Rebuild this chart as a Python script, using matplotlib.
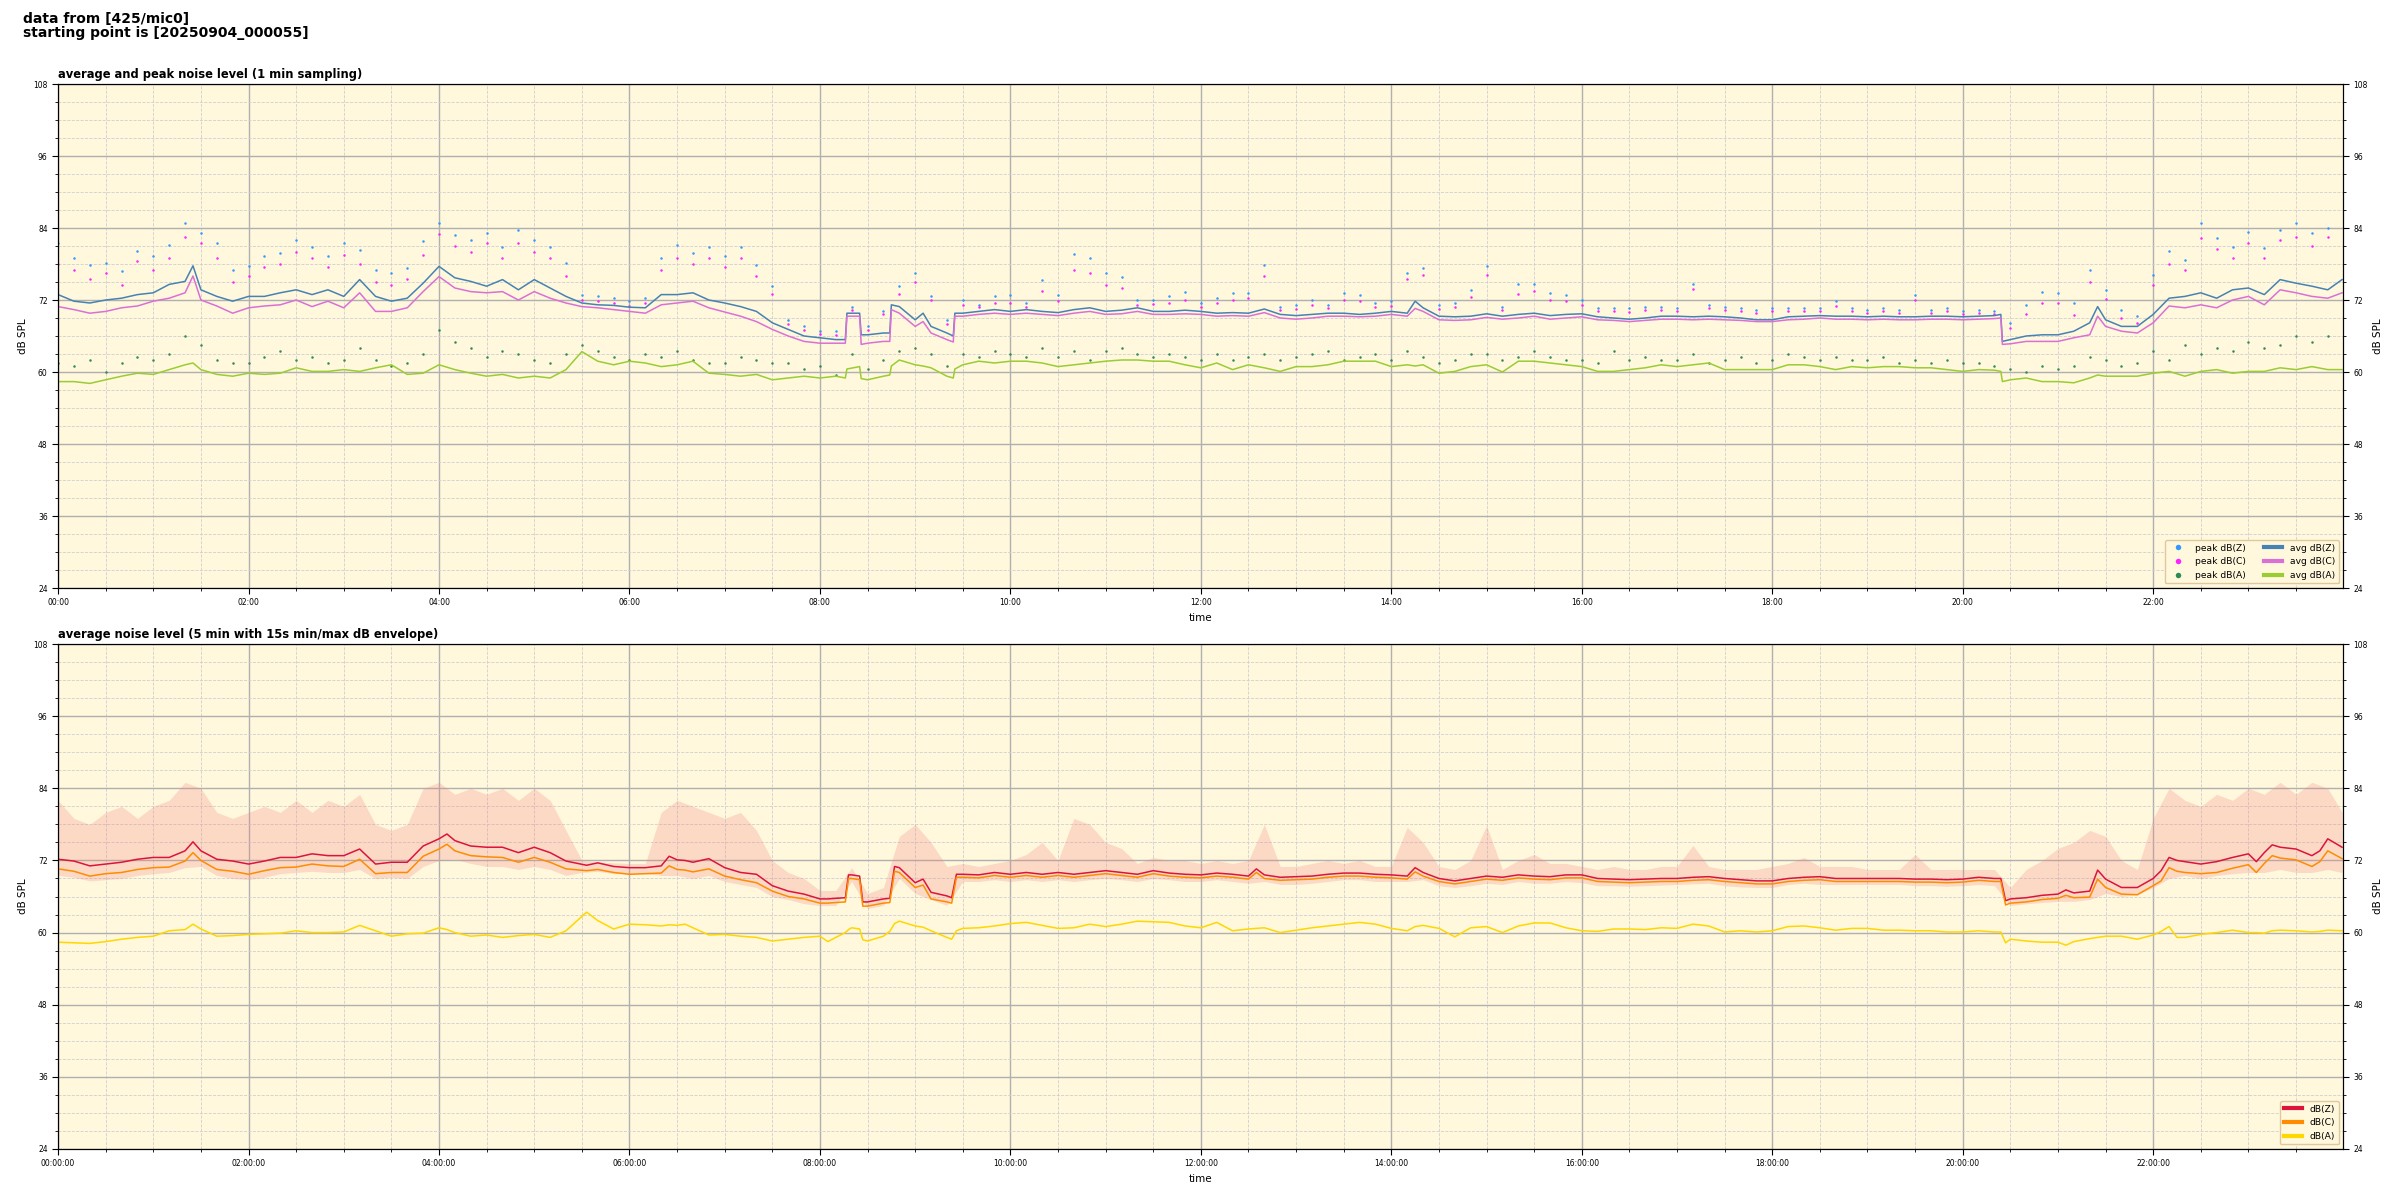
import pandas as pd
import matplotlib
matplotlib.use('Agg')
import matplotlib.pyplot as plt
import matplotlib.dates as mdates
from matplotlib.ticker import MultipleLocator

DAY = '2025-09-04 '

# ---- top panel: 1 min averages (knots ~10 min) ----
avg_time = """
00:00 00:10 00:20 00:30 00:40 00:50
01:00 01:10 01:20 01:25 01:30 01:40 01:50
02:00 02:10 02:20 02:30 02:40 02:50
03:00 03:10 03:20 03:30 03:40 03:50
04:00 04:10 04:20 04:30 04:40 04:50
05:00 05:10 05:20 05:30 05:40 05:50
06:00 06:10 06:20 06:30 06:40 06:50
07:00 07:10 07:20 07:30 07:40 07:50
08:00 08:10 08:16 08:17 08:25 08:26 08:30 08:40 08:44 08:45 08:50
09:00 09:05 09:10 09:20 09:24 09:25 09:30 09:40 09:50
10:00 10:10 10:20 10:30 10:40 10:50
11:00 11:10 11:20 11:30 11:40 11:50
12:00 12:10 12:20 12:30 12:40 12:50
13:00 13:10 13:20 13:30 13:40 13:50
14:00 14:10 14:15 14:20 14:30 14:40 14:50
15:00 15:10 15:20 15:30 15:40 15:50
16:00 16:10 16:20 16:30 16:40 16:50
17:00 17:10 17:20 17:30 17:40 17:50
18:00 18:10 18:20 18:30 18:40 18:50
19:00 19:10 19:20 19:30 19:40 19:50
20:00 20:10 20:20 20:24 20:25 20:30 20:40 20:50
21:00 21:10 21:20 21:25 21:30 21:40 21:50
22:00 22:10 22:20 22:30 22:40 22:50
23:00 23:10 23:20 23:30 23:40 23:50 23:59
""".split()

avg_z = [72.9, 71.8, 71.5, 72.0, 72.3, 72.9,
         73.2, 74.6, 75.1, 77.7, 73.7, 72.6, 71.8,
         72.6, 72.6, 73.2, 73.7, 72.9, 73.7,
         72.6, 75.4, 72.6, 71.8, 72.3, 74.8,
         77.6, 75.7, 75.1, 74.3, 75.4, 73.7,
         75.4, 74.0, 72.6, 71.5, 71.2, 71.1,
         70.8, 70.7, 72.9, 72.9, 73.2, 72.0,
         71.5, 70.9, 70.1, 68.2, 67.1, 66.0,
         65.7, 65.4, 65.4, 69.8, 69.8, 66.2, 66.2, 66.5, 66.5, 71.2, 70.9,
         68.7, 69.8, 67.6, 66.5, 66.0, 69.8, 69.8, 70.1, 70.4,
         70.1, 70.4, 70.1, 69.9, 70.4, 70.7,
         70.1, 70.3, 70.7, 70.1, 70.1, 70.3,
         70.1, 69.8, 69.9, 69.8, 70.5, 69.6,
         69.4, 69.6, 69.8, 69.8, 69.6, 69.8,
         70.1, 69.8, 71.8, 70.7, 69.3, 69.2, 69.3,
         69.7, 69.3, 69.6, 69.8, 69.4, 69.6,
         69.7, 69.2, 69.0, 68.8, 69.0, 69.3,
         69.3, 69.2, 69.3, 69.2, 69.0, 68.7,
         68.7, 69.2, 69.3, 69.4, 69.3, 69.3,
         69.2, 69.3, 69.2, 69.2, 69.3, 69.3,
         69.2, 69.3, 69.4, 69.6, 65.1, 65.4, 66.0, 66.2,
         66.2, 66.8, 68.2, 70.9, 68.7, 67.6, 67.6,
         69.6, 72.3, 72.6, 73.2, 72.3, 73.7,
         74.0, 72.9, 75.4, 74.8, 74.3, 73.7, 75.4]

avg_c = [70.9, 70.4, 69.8, 70.1, 70.7, 71.0,
         71.8, 72.3, 73.2, 76.0, 72.0, 71.0, 69.8,
         70.7, 71.0, 71.2, 72.0, 70.9, 71.8,
         70.7, 73.2, 70.1, 70.1, 70.7, 73.4,
         75.9, 74.0, 73.4, 73.2, 73.4, 72.0,
         73.4, 72.3, 71.5, 70.9, 70.7, 70.4,
         70.1, 69.8, 71.2, 71.5, 71.8, 70.7,
         70.0, 69.3, 68.4, 67.1, 66.0, 65.1,
         64.8, 64.8, 64.8, 69.3, 69.3, 64.6, 64.8, 65.1, 65.1, 70.4, 69.8,
         67.6, 68.4, 66.5, 65.4, 65.0, 69.3, 69.3, 69.6, 69.8,
         69.6, 69.8, 69.6, 69.4, 69.8, 70.1,
         69.6, 69.7, 70.1, 69.6, 69.6, 69.7,
         69.6, 69.3, 69.4, 69.3, 69.9, 69.0,
         68.8, 69.0, 69.3, 69.3, 69.2, 69.3,
         69.6, 69.3, 70.6, 70.1, 68.7, 68.6, 68.7,
         69.1, 68.8, 69.0, 69.3, 68.8, 69.0,
         69.2, 68.7, 68.6, 68.4, 68.6, 68.8,
         68.8, 68.7, 68.8, 68.7, 68.6, 68.4,
         68.4, 68.7, 68.8, 69.0, 68.8, 68.8,
         68.7, 68.8, 68.7, 68.7, 68.8, 68.8,
         68.7, 68.8, 68.9, 69.0, 64.6, 64.7, 65.1, 65.1,
         65.1, 65.7, 66.2, 69.3, 67.6, 66.8, 66.5,
         68.2, 71.0, 70.7, 71.2, 70.7, 72.0,
         72.6, 71.2, 73.7, 73.2, 72.6, 72.3, 73.2]

avg_a = [58.4, 58.4, 58.1, 58.7, 59.3, 59.8,
         59.6, 60.4, 61.2, 61.5, 60.4, 59.6, 59.3,
         59.8, 59.6, 59.8, 60.7, 60.1, 60.1,
         60.4, 60.1, 60.7, 61.2, 59.6, 59.8,
         61.2, 60.4, 59.8, 59.3, 59.6, 59.0,
         59.3, 59.0, 60.4, 63.4, 61.8, 61.2,
         61.8, 61.5, 60.9, 61.2, 61.8, 59.8,
         59.6, 59.3, 59.6, 58.7, 59.0, 59.3,
         59.0, 59.3, 59.0, 60.5, 60.9, 58.9, 58.7, 59.3, 59.5, 61.0, 62.0,
         61.2, 61.0, 60.7, 59.3, 59.0, 60.5, 61.2, 61.8, 61.5,
         61.8, 61.8, 61.5, 60.9, 61.2, 61.5,
         61.8, 62.0, 62.0, 61.8, 61.8, 61.2,
         60.7, 61.5, 60.4, 61.2, 60.7, 60.1,
         60.9, 60.9, 61.2, 61.8, 61.8, 61.8,
         60.9, 61.2, 61.0, 61.2, 59.8, 60.1, 60.9,
         61.2, 60.0, 61.8, 61.8, 61.5, 61.2,
         60.9, 60.1, 60.1, 60.4, 60.7, 61.2,
         60.9, 61.2, 61.5, 60.4, 60.4, 60.4,
         60.4, 61.2, 61.2, 60.9, 60.4, 60.9,
         60.7, 60.9, 60.9, 60.7, 60.7, 60.4,
         60.1, 60.4, 60.3, 60.1, 58.4, 58.7, 59.0, 58.4,
         58.4, 58.2, 59.0, 59.5, 59.3, 59.3, 59.3,
         59.8, 60.1, 59.3, 60.1, 60.4, 59.8,
         60.1, 60.1, 60.7, 60.4, 60.9, 60.4, 60.4]

# peak values, one reading per 10 min (00:00 .. 23:50)
peak_z = [81.5, 79.0, 77.9, 78.2, 76.8, 80.1,
          79.3, 81.2, 84.8, 83.2, 81.5, 77.0,
          77.6, 79.3, 79.8, 82.0, 80.9, 79.3,
          81.5, 80.4, 77.0, 76.5, 77.3, 81.8,
          84.8, 82.9, 82.0, 83.2, 80.9, 83.7,
          82.0, 80.9, 78.2, 72.9, 72.6, 72.3,
          71.8, 72.3, 79.0, 81.2, 79.8, 80.9,
          79.3, 80.9, 77.9, 74.3, 68.7, 67.6,
          66.8, 66.8, 70.9, 67.6, 70.1, 74.3,
          76.5, 72.6, 68.7, 72.0, 71.2, 72.6,
          72.9, 71.5, 75.4, 72.9, 79.6, 79.0,
          76.5, 75.9, 72.0, 72.0, 72.6, 73.4,
          71.5, 72.3, 73.2, 73.2, 77.9, 70.9,
          71.2, 72.0, 71.2, 73.2, 72.9, 71.5,
          71.8, 76.5, 77.3, 71.2, 71.5, 73.7,
          77.6, 70.9, 74.6, 74.6, 73.2, 72.9,
          72.0, 70.7, 70.7, 70.7, 70.9, 70.9,
          70.7, 74.6, 71.2, 70.9, 70.7, 70.4,
          70.7, 70.7, 70.7, 70.7, 71.8, 70.7,
          70.4, 70.7, 70.4, 72.9, 70.4, 70.7,
          70.1, 70.4, 70.1, 68.2, 71.2, 73.4,
          73.2, 71.5, 77.0, 73.7, 70.4, 69.3,
          76.2, 80.1, 78.7, 84.8, 82.3, 80.9,
          83.4, 80.7, 83.7, 84.8, 83.2, 84.0]

peak_c = [78.0, 77.0, 75.5, 76.5, 74.5, 78.5,
          77.0, 79.0, 82.5, 81.5, 79.0, 75.0,
          76.0, 77.5, 78.0, 80.0, 79.0, 77.5,
          79.5, 78.0, 75.0, 74.5, 75.5, 79.5,
          83.0, 81.0, 80.0, 81.5, 79.0, 81.5,
          80.0, 79.0, 76.0, 72.0, 71.8, 71.5,
          71.0, 71.5, 77.0, 79.0, 78.0, 79.0,
          77.5, 79.0, 76.0, 73.0, 68.0, 67.0,
          66.3, 66.2, 70.4, 67.0, 69.6, 73.0,
          75.0, 72.0, 68.0, 71.2, 70.8, 71.5,
          71.5, 70.8, 73.5, 71.8, 77.0, 76.5,
          74.5, 74.0, 71.2, 71.3, 71.5, 72.0,
          70.8, 71.5, 72.0, 72.3, 76.0, 70.3,
          70.5, 71.2, 70.6, 72.0, 71.8, 70.8,
          71.0, 75.5, 76.2, 70.5, 70.8, 72.5,
          76.2, 70.3, 73.0, 73.5, 72.0, 71.8,
          71.2, 70.1, 70.2, 70.0, 70.3, 70.3,
          70.1, 73.8, 70.6, 70.3, 70.1, 69.9,
          70.1, 70.1, 70.2, 70.1, 71.0, 70.1,
          69.9, 70.1, 69.9, 72.0, 69.9, 70.2,
          69.6, 69.9, 69.6, 67.4, 69.6, 71.5,
          71.5, 69.5, 75.0, 72.2, 69.0, 68.1,
          74.5, 78.0, 77.0, 82.3, 80.5, 79.0,
          81.5, 79.0, 82.0, 82.5, 81.0, 82.5]

peak_a = [61.5, 61.0, 62.0, 60.0, 61.5, 62.5,
          62.0, 63.0, 66.0, 64.5, 62.0, 61.5,
          61.5, 62.5, 63.5, 62.0, 62.5, 61.5,
          62.0, 64.0, 62.0, 61.0, 61.5, 63.0,
          67.0, 65.0, 64.0, 62.5, 63.5, 63.0,
          62.0, 61.5, 63.0, 64.5, 63.5, 62.5,
          62.0, 63.0, 62.5, 63.5, 62.0, 61.5,
          61.5, 62.5, 62.0, 61.5, 61.5, 60.5,
          61.0, 59.5, 63.0, 60.5, 62.0, 63.5,
          64.0, 63.0, 61.0, 63.0, 62.5, 63.5,
          63.0, 62.5, 64.0, 62.5, 63.5, 62.0,
          63.5, 64.0, 63.0, 62.5, 63.0, 62.5,
          62.0, 63.0, 62.0, 62.5, 63.0, 62.0,
          62.5, 63.0, 63.5, 62.0, 62.5, 63.0,
          62.0, 63.5, 62.5, 61.5, 62.0, 63.0,
          63.0, 62.0, 62.5, 63.5, 62.5, 62.0,
          62.0, 61.5, 63.5, 62.0, 62.5, 62.0,
          62.0, 63.0, 61.5, 62.0, 62.5, 61.5,
          62.0, 63.0, 62.5, 62.0, 62.5, 62.0,
          62.0, 62.5, 61.5, 62.0, 61.5, 62.0,
          61.5, 61.5, 61.0, 60.5, 60.0, 61.0,
          60.5, 61.0, 62.5, 62.0, 61.0, 61.5,
          63.5, 62.0, 64.5, 63.0, 64.0, 63.5,
          65.0, 64.0, 64.5, 66.0, 65.0, 66.0]

# ---- bottom panel: 5 min averages ----
min5_time = """
00:00 00:10 00:20 00:30 00:40 00:50
01:00 01:10 01:20 01:25 01:30 01:40 01:50
02:00 02:10 02:20 02:30 02:40 02:50
03:00 03:10 03:20 03:30 03:40 03:50
04:00 04:05 04:10 04:20 04:30 04:40 04:50
05:00 05:10 05:20 05:33 05:40 05:50
06:00 06:10 06:20 06:25 06:30 06:35 06:40 06:50
07:00 07:10 07:20 07:30 07:40 07:50
08:00 08:05 08:10 08:16 08:18 08:20 08:25 08:27 08:30 08:40 08:44 08:47 08:50
09:00 09:05 09:10 09:20 09:23 09:26 09:30 09:40 09:50
10:00 10:10 10:20 10:30 10:40 10:50
11:00 11:10 11:20 11:30 11:40 11:50
12:00 12:10 12:20 12:30 12:35 12:40 12:50
13:00 13:10 13:20 13:30 13:40 13:50
14:00 14:10 14:15 14:20 14:30 14:40 14:50
15:00 15:10 15:20 15:30 15:40 15:50
16:00 16:10 16:20 16:30 16:40 16:50
17:00 17:10 17:20 17:30 17:40 17:50
18:00 18:10 18:20 18:30 18:40 18:50
19:00 19:10 19:20 19:30 19:40 19:50
20:00 20:10 20:20 20:24 20:27 20:30 20:40 20:50
21:00 21:05 21:10 21:20 21:25 21:30 21:40 21:50
22:00 22:05 22:10 22:15 22:20 22:30 22:40 22:50
23:00 23:05 23:10 23:15 23:20 23:30 23:40 23:45 23:50 23:59
""".split()

min5_z = [72.2, 71.9, 71.1, 71.4, 71.7, 72.2,
          72.5, 72.5, 73.6, 75.1, 73.6, 72.2, 71.9,
          71.4, 71.9, 72.5, 72.5, 73.1, 72.8,
          72.8, 73.9, 71.4, 71.7, 71.7, 74.4,
          75.6, 76.4, 75.3, 74.4, 74.2, 74.2, 73.3,
          74.2, 73.3, 71.9, 71.2, 71.6, 71.0,
          70.8, 70.8, 71.1, 72.7, 72.1, 72.0, 71.7, 72.3,
          70.8, 70.0, 69.7, 67.8, 66.9, 66.4,
          65.6, 65.6, 65.7, 65.8, 69.6, 69.6, 69.4, 65.1, 65.1, 65.6, 65.7, 71.0, 70.8,
          68.3, 68.9, 66.7, 66.1, 65.8, 69.7, 69.7, 69.6, 70.0,
          69.7, 70.0, 69.7, 70.0, 69.7, 70.0,
          70.3, 70.0, 69.7, 70.3, 69.9, 69.7,
          69.6, 69.9, 69.7, 69.4, 70.6, 69.6, 69.2,
          69.3, 69.4, 69.7, 69.9, 69.9, 69.7,
          69.6, 69.4, 70.8, 70.0, 69.0, 68.6, 69.0,
          69.4, 69.2, 69.6, 69.4, 69.3, 69.6,
          69.6, 69.0, 68.9, 68.8, 68.9, 69.0,
          69.0, 69.2, 69.3, 69.0, 68.8, 68.6,
          68.6, 69.0, 69.2, 69.3, 69.0, 69.0,
          69.0, 69.0, 69.0, 68.9, 68.9, 68.8,
          68.9, 69.2, 69.0, 69.0, 65.3, 65.6, 65.8, 66.2,
          66.4, 67.1, 66.6, 66.9, 70.4, 68.9, 67.5, 67.5,
          69.0, 70.3, 72.5, 72.0, 71.8, 71.4, 71.8, 72.5,
          73.1, 71.8, 73.3, 74.6, 74.2, 73.9, 72.8, 73.6, 75.6, 74.2]

min5_c = [70.6, 70.2, 69.4, 69.8, 70.0, 70.5,
          70.8, 70.9, 71.9, 73.3, 72.0, 70.5, 70.2,
          69.7, 70.3, 70.8, 70.9, 71.4, 71.1,
          71.0, 72.2, 69.8, 70.0, 70.0, 72.7,
          73.9, 74.7, 73.6, 72.8, 72.6, 72.5, 71.7,
          72.5, 71.7, 70.6, 70.3, 70.5, 70.0,
          69.7, 69.8, 69.9, 71.1, 70.5, 70.4, 70.1, 70.6,
          69.4, 68.8, 68.3, 66.9, 66.0, 65.6,
          64.9, 64.9, 65.0, 65.1, 69.0, 69.0, 68.8, 64.4, 64.4, 64.9, 65.0, 70.2, 70.0,
          67.5, 67.9, 65.6, 65.1, 64.9, 69.2, 69.2, 69.1, 69.5,
          69.2, 69.5, 69.2, 69.5, 69.2, 69.5,
          69.8, 69.5, 69.2, 69.8, 69.4, 69.2,
          69.1, 69.4, 69.2, 68.9, 70.0, 69.0, 68.7,
          68.8, 68.9, 69.2, 69.4, 69.4, 69.2,
          69.1, 68.9, 70.1, 69.4, 68.5, 68.1, 68.5,
          68.9, 68.7, 69.1, 68.9, 68.8, 69.1,
          69.1, 68.5, 68.4, 68.3, 68.4, 68.5,
          68.5, 68.7, 68.8, 68.5, 68.3, 68.1,
          68.1, 68.5, 68.7, 68.8, 68.5, 68.5,
          68.5, 68.5, 68.5, 68.4, 68.4, 68.3,
          68.4, 68.7, 68.5, 68.5, 64.6, 64.9, 65.1, 65.5,
          65.7, 66.2, 65.8, 65.9, 68.9, 67.5, 66.4, 66.3,
          67.8, 68.6, 70.8, 70.2, 70.0, 69.8, 70.0, 70.7,
          71.3, 70.0, 71.5, 72.8, 72.4, 72.1, 71.0, 71.8, 73.6, 72.3]

min5_a = [58.4, 58.3, 58.2, 58.5, 58.9, 59.2,
          59.4, 60.3, 60.5, 61.4, 60.6, 59.4, 59.5,
          59.7, 59.8, 59.9, 60.3, 60.0, 60.0,
          60.1, 61.2, 60.3, 59.4, 59.8, 59.9,
          60.8, 60.5, 60.0, 59.4, 59.6, 59.2, 59.5,
          59.7, 59.2, 60.3, 63.4, 62.0, 60.6,
          61.4, 61.3, 61.1, 61.3, 61.2, 61.4, 60.8, 59.6,
          59.7, 59.4, 59.2, 58.6, 58.9, 59.2,
          59.4, 58.5, 59.2, 60.0, 60.5, 60.8, 60.6, 58.8, 58.6, 59.4, 60.2, 61.5, 61.9,
          61.1, 60.9, 60.3, 59.2, 58.9, 60.3, 60.7, 60.8, 61.1,
          61.5, 61.7, 61.2, 60.7, 60.8, 61.4,
          61.0, 61.4, 61.9, 61.8, 61.7, 61.1,
          60.8, 61.7, 60.3, 60.6, 60.7, 60.8, 60.0,
          60.4, 60.8, 61.1, 61.4, 61.7, 61.4,
          60.7, 60.3, 61.0, 61.2, 60.7, 59.3, 60.8,
          61.0, 60.0, 61.1, 61.6, 61.6, 60.8,
          60.3, 60.2, 60.6, 60.6, 60.5, 60.8,
          60.7, 61.4, 61.1, 60.1, 60.3, 60.1,
          60.3, 61.0, 61.1, 60.8, 60.4, 60.7,
          60.7, 60.4, 60.4, 60.3, 60.3, 60.1,
          60.1, 60.3, 60.1, 60.1, 58.3, 58.9, 58.6, 58.4,
          58.4, 57.9, 58.5, 59.0, 59.2, 59.4, 59.4, 58.9,
          59.6, 60.2, 61.0, 59.2, 59.2, 59.7, 60.0, 60.4,
          60.0, 60.0, 59.9, 60.3, 60.4, 60.3, 60.1, 60.2, 60.4, 60.3]

# 15 s min/max envelope, read every 10 min (00:00 .. 23:50, 23:59)
env_hi = [82, 79, 78, 80, 81, 79,
          81, 82, 85, 84, 80, 79,
          80, 81, 80, 82, 80, 82,
          81, 83, 78, 77, 78, 84,
          85, 83, 84, 83, 84, 82,
          84, 82, 77, 72, 71.8, 71.6,
          71.5, 71.5, 80, 82, 81, 80,
          79, 80, 77, 72, 70, 69,
          67, 67, 70.8, 66.5, 67.5, 76,
          78, 75, 71, 71.5, 71, 71.5,
          72, 73, 75, 72, 79, 78,
          75, 74, 71.5, 72.5, 72, 72,
          71.5, 72, 71.5, 72, 78, 71,
          71, 71.5, 72, 71.5, 72, 71,
          71, 77.5, 75, 71, 70.5, 72,
          77.8, 70.5, 72, 73, 71.5, 71.5,
          71, 70.5, 71, 70.5, 70.5, 71,
          71, 74.5, 71, 70.5, 70.5, 70.5,
          71, 71.5, 72.5, 71, 71, 71,
          70.5, 70.5, 70.5, 73, 70.5, 70.5,
          70.5, 70.5, 70.5, 67.5, 70.5, 72,
          74, 75, 77, 76, 72, 70.5,
          79, 84, 82, 81, 83, 82,
          84, 83, 85, 83, 85, 84, 80]

env_lo = [69.5, 69.2, 68.6, 68.8, 69.0, 69.5,
          69.8, 70.0, 70.8, 71.0, 69.5, 69.0,
          68.8, 69.2, 69.8, 70.0, 70.2, 70.0,
          70.0, 70.5, 69.0, 69.2, 69.0, 71.0,
          72.0, 72.2, 71.5, 71.0, 71.0, 70.5,
          71.0, 70.5, 69.5, 70.0, 70.2, 69.8,
          69.8, 69.8, 69.5, 69.5, 69.0, 69.5,
          68.5, 68.0, 67.5, 66.0, 65.5, 64.8,
          64.5, 64.5, 68.5, 64.0, 64.5, 69.0,
          66.5, 65.5, 64.5, 68.5, 68.5, 68.8,
          68.5, 68.8, 68.5, 68.8, 68.5, 68.8,
          69.0, 68.8, 68.5, 69.0, 68.8, 68.5,
          68.5, 68.8, 68.5, 68.2, 68.5, 68.0,
          68.0, 68.2, 68.5, 68.8, 68.8, 68.5,
          68.5, 68.5, 68.8, 67.8, 67.5, 67.8,
          68.2, 68.0, 68.5, 68.2, 68.2, 68.5,
          68.3, 67.8, 67.8, 67.7, 67.8, 67.9,
          68.0, 68.1, 68.2, 67.8, 67.6, 67.5,
          67.5, 68.0, 68.2, 68.0, 68.0, 68.0,
          68.0, 68.0, 68.0, 67.8, 67.8, 67.7,
          67.8, 68.0, 67.8, 64.5, 64.8, 65.0,
          65.2, 65.2, 65.5, 66.5, 66.0, 66.3,
          67.5, 69.0, 69.5, 69.0, 69.5, 69.8,
          70.0, 70.0, 70.5, 70.0, 70.0, 70.5, 70.0]


def to_dt(times):
    return pd.to_datetime([DAY + t for t in times])


t_avg = to_dt(avg_time)
t_5m = to_dt(min5_time)
t_peak = pd.date_range(DAY + '00:00', DAY + '23:50', freq='10min')
t_env = t_peak.append(pd.DatetimeIndex([pd.Timestamp(DAY + '23:59')]))

BG = '#fff8dc'


def style_axes(ax, fmt):
    ax.set_facecolor(BG)
    ax.set_axisbelow(True)
    ax.set_xlim(pd.Timestamp(DAY + '00:00'), pd.Timestamp(DAY + '23:59:40'))
    ax.set_ylim(24, 108)
    ax.yaxis.set_major_locator(MultipleLocator(12))
    ax.yaxis.set_minor_locator(MultipleLocator(3))
    ax.xaxis.set_major_locator(mdates.HourLocator(byhour=range(0, 24, 2)))
    ax.xaxis.set_minor_locator(mdates.MinuteLocator(byminute=[0, 30]))
    ax.xaxis.set_major_formatter(mdates.DateFormatter(fmt))
    ax.xaxis.get_offset_text().set_visible(False)
    ax.grid(which='major', color='#b0b0b0', lw=1.0)
    ax.grid(which='minor', color='#cfcfcf', ls='--', lw=0.6)
    ax.tick_params(which='major', labelsize=5.5, length=4)
    ax.tick_params(which='minor', length=2.5)
    ax.set_ylabel('dB SPL', fontsize=7.5)
    ax.set_xlabel('time', fontsize=7.5)
    # mirror y axis on the right
    rax = ax.twinx()
    rax.set_ylim(24, 108)
    rax.yaxis.set_major_locator(MultipleLocator(12))
    rax.yaxis.set_minor_locator(MultipleLocator(3))
    rax.tick_params(which='major', labelsize=5.5, length=4)
    rax.tick_params(which='minor', length=2.5)
    rax.set_ylabel('dB SPL', fontsize=7.5)


fig = plt.figure(figsize=(24, 12), dpi=100)
fig.text(0.0096, 0.99, 'data from [425/mic0]\nstarting point is [20250904_000055]',
         fontsize=10, fontweight='bold', va='top', ha='left', linespacing=1.0)

# top: 1 min averages and peaks
ax1 = fig.add_axes([0.0242, 0.51, 0.9521, 0.42])
style_axes(ax1, '%H:%M')
ax1.set_title('average and peak noise level (1 min sampling)', loc='left',
              fontsize=8.3, fontweight='bold', pad=4)
ax1.plot(t_peak, peak_z, ls='none', marker='o', ms=1.8, mew=0, color='#3399ff', label='peak dB(Z)')
ax1.plot(t_peak, peak_c, ls='none', marker='o', ms=1.8, mew=0, color='#ff22ff', label='peak dB(C)')
ax1.plot(t_peak, peak_a, ls='none', marker='o', ms=1.8, mew=0, color='seagreen', label='peak dB(A)')
ax1.plot(t_avg, avg_z, color='steelblue', lw=1.1, label='avg dB(Z)')
ax1.plot(t_avg, avg_c, color='orchid', lw=1.1, label='avg dB(C)')
ax1.plot(t_avg, avg_a, color='yellowgreen', lw=1.1, label='avg dB(A)')
leg1 = ax1.legend(loc='lower right', ncol=2, fontsize=6.6, markerscale=2.2,
                  facecolor=BG, edgecolor='#e0c7a0', framealpha=1)
for ln in leg1.get_lines():
    ln.set_linewidth(3)

# bottom: 5 min averages with 15 s min/max envelope
ax2 = fig.add_axes([0.0242, 0.0425, 0.9521, 0.4208])
style_axes(ax2, '%H:%M:%S')
ax2.set_title('average noise level (5 min with 15s min/max dB envelope)', loc='left',
              fontsize=8.3, fontweight='bold', pad=4)
ax2.fill_between(t_env, env_lo, env_hi, color='lightcoral', alpha=0.25, lw=0)
ax2.plot(t_5m, min5_z, color='crimson', lw=1.1, label='dB(Z)')
ax2.plot(t_5m, min5_c, color='darkorange', lw=1.1, label='dB(C)')
ax2.plot(t_5m, min5_a, color='gold', lw=1.1, label='dB(A)')
leg2 = ax2.legend(loc='lower right', fontsize=6.6, facecolor=BG,
                  edgecolor='#e0c7a0', framealpha=1)
for ln in leg2.get_lines():
    ln.set_linewidth(3)

fig.savefig('out.png', dpi=100)
